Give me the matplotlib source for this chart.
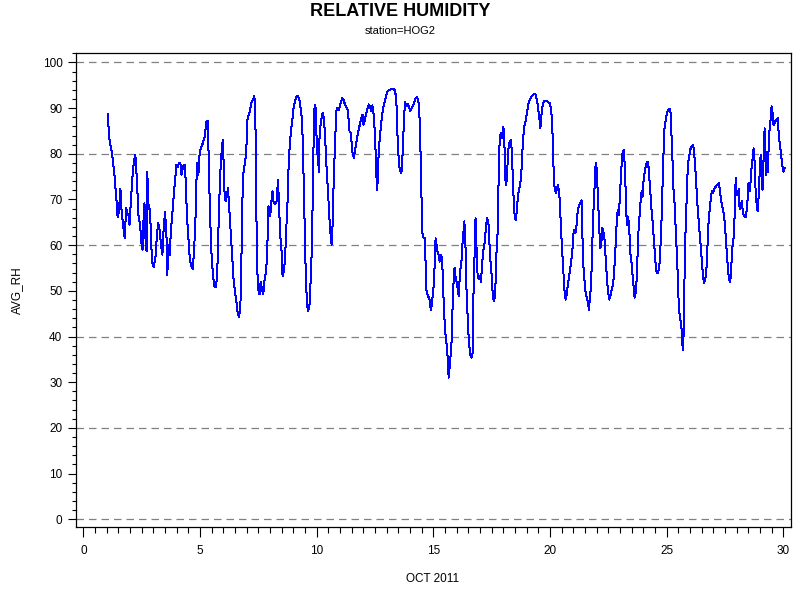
import matplotlib
matplotlib.use("Agg")
import matplotlib.pyplot as plt
from matplotlib.ticker import MultipleLocator

plt.rcParams['font.family'] = ['Liberation Sans', 'DejaVu Sans']

# day of month (Oct 2011) and average relative humidity
days = [1.04, 1.13, 1.24, 1.34, 1.44, 1.47, 1.53, 1.59, 1.63, 1.70, 1.77, 1.84, 1.89, 1.94, 1.98,
        2.03, 2.10, 2.16, 2.23, 2.30, 2.36, 2.43, 2.49, 2.54, 2.58, 2.62, 2.67, 2.71, 2.74, 2.80,
        2.86, 2.91, 2.96, 3.01, 3.09, 3.16, 3.21, 3.27, 3.33, 3.39, 3.44, 3.50, 3.56, 3.60, 3.64,
        3.70, 3.76, 3.81, 3.87, 3.93, 3.99, 4.04, 4.10, 4.16, 4.21, 4.27, 4.34, 4.39, 4.44, 4.50,
        4.56, 4.62, 4.69, 4.74, 4.80, 4.84, 4.87, 4.93, 4.99, 5.04, 5.10, 5.16, 5.21, 5.27, 5.33,
        5.37, 5.41, 5.46, 5.50, 5.54, 5.59, 5.63, 5.67, 5.73, 5.77, 5.81, 5.86, 5.91, 5.96, 5.99,
        6.01, 6.06, 6.10, 6.16, 6.20, 6.24, 6.29, 6.33, 6.39, 6.44, 6.50, 6.56, 6.61, 6.67, 6.73,
        6.77, 6.80, 6.84, 6.89, 6.93, 6.99, 7.04, 7.10, 7.16, 7.21, 7.27, 7.33, 7.37, 7.40, 7.43,
        7.47, 7.51, 7.56, 7.60, 7.66, 7.71, 7.77, 7.84, 7.89, 7.93, 7.97, 8.01, 8.06, 8.11, 8.16,
        8.21, 8.29, 8.34, 8.39, 8.43, 8.49, 8.54, 8.59, 8.64, 8.70, 8.76, 8.80, 8.84, 8.90, 8.96,
        9.01, 9.07, 9.14, 9.20, 9.26, 9.31, 9.37, 9.41, 9.46, 9.50, 9.54, 9.59, 9.63, 9.69, 9.74,
        9.80, 9.84, 9.89, 9.93, 9.97, 10.01, 10.06, 10.09, 10.13, 10.17, 10.23, 10.27, 10.31, 10.36, 10.41,
        10.47, 10.53, 10.57, 10.62, 10.64, 10.69, 10.73, 10.79, 10.84, 10.89, 10.93, 10.99, 11.04, 11.10, 11.16,
        11.21, 11.27, 11.33, 11.37, 11.41, 11.46, 11.50, 11.54, 11.59, 11.63, 11.69, 11.74, 11.80, 11.86, 11.91,
        11.97, 12.01, 12.07, 12.13, 12.19, 12.24, 12.30, 12.34, 12.39, 12.43, 12.47, 12.51, 12.54, 12.57, 12.60,
        12.63, 12.67, 12.71, 12.76, 12.81, 12.87, 12.93, 12.99, 13.04, 13.10, 13.17, 13.24, 13.33, 13.39, 13.43,
        13.46, 13.50, 13.54, 13.59, 13.63, 13.67, 13.71, 13.76, 13.79, 13.83, 13.87, 13.91, 13.96, 14.01, 14.07,
        14.13, 14.19, 14.24, 14.30, 14.36, 14.40, 14.43, 14.46, 14.49, 14.52, 14.54, 14.59, 14.63, 14.67, 14.71,
        14.77, 14.83, 14.87, 14.91, 14.96, 15.00, 15.04, 15.07, 15.10, 15.14, 15.19, 15.23, 15.27, 15.31, 15.36,
        15.40, 15.44, 15.49, 15.53, 15.57, 15.61, 15.66, 15.70, 15.74, 15.79, 15.83, 15.87, 15.91, 15.96, 16.00,
        16.04, 16.09, 16.13, 16.17, 16.20, 16.24, 16.29, 16.33, 16.37, 16.41, 16.46, 16.50, 16.56, 16.61, 16.65,
        16.69, 16.71, 16.73, 16.77, 16.81, 16.84, 16.87, 16.91, 16.96, 17.00, 17.04, 17.09, 17.13, 17.19, 17.23,
        17.27, 17.31, 17.37, 17.41, 17.46, 17.50, 17.54, 17.59, 17.63, 17.67, 17.71, 17.76, 17.79, 17.81, 17.86,
        17.90, 17.94, 17.99, 18.03, 18.06, 18.09, 18.12, 18.16, 18.20, 18.24, 18.29, 18.33, 18.37, 18.41, 18.46,
        18.50, 18.54, 18.59, 18.63, 18.69, 18.73, 18.77, 18.81, 18.86, 18.90, 18.96, 19.01, 19.07, 19.13, 19.19,
        19.24, 19.30, 19.36, 19.41, 19.47, 19.53, 19.59, 19.61, 19.66, 19.70, 19.76, 19.81, 19.87, 19.93, 19.99,
        20.04, 20.09, 20.13, 20.17, 20.21, 20.26, 20.30, 20.34, 20.39, 20.43, 20.47, 20.52, 20.56, 20.60, 20.64,
        20.69, 20.73, 20.79, 20.84, 20.90, 20.96, 21.00, 21.04, 21.09, 21.13, 21.17, 21.21, 21.27, 21.33, 21.36,
        21.39, 21.43, 21.49, 21.53, 21.59, 21.64, 21.67, 21.71, 21.76, 21.80, 21.84, 21.89, 21.93, 21.96, 22.00,
        22.04, 22.09, 22.13, 22.16, 22.20, 22.24, 22.29, 22.33, 22.37, 22.41, 22.46, 22.50, 22.54, 22.59, 22.64,
        22.70, 22.74, 22.79, 22.83, 22.87, 22.91, 22.94, 22.99, 23.03, 23.07, 23.11, 23.16, 23.20, 23.24, 23.27,
        23.30, 23.33, 23.37, 23.41, 23.46, 23.50, 23.54, 23.59, 23.63, 23.67, 23.71, 23.76, 23.80, 23.84, 23.89,
        23.93, 23.97, 24.01, 24.06, 24.10, 24.14, 24.19, 24.23, 24.27, 24.31, 24.36, 24.40, 24.44, 24.49, 24.53,
        24.57, 24.61, 24.66, 24.70, 24.74, 24.79, 24.83, 24.87, 24.91, 24.96, 25.00, 25.04, 25.09, 25.13, 25.17,
        25.21, 25.26, 25.30, 25.34, 25.39, 25.43, 25.47, 25.51, 25.56, 25.60, 25.64, 25.67, 25.69, 25.73, 25.77,
        25.81, 25.86, 25.90, 25.94, 25.99, 26.03, 26.07, 26.13, 26.17, 26.21, 26.26, 26.30, 26.34, 26.39, 26.43,
        26.47, 26.51, 26.56, 26.60, 26.64, 26.69, 26.73, 26.77, 26.81, 26.86, 26.90, 26.94, 26.99, 27.03, 27.07,
        27.11, 27.16, 27.20, 27.24, 27.29, 27.33, 27.37, 27.41, 27.46, 27.50, 27.54, 27.59, 27.63, 27.67, 27.71,
        27.76, 27.80, 27.84, 27.89, 27.93, 27.96, 27.99, 28.01, 28.06, 28.09, 28.11, 28.14, 28.19, 28.23, 28.27,
        28.31, 28.36, 28.40, 28.44, 28.49, 28.51, 28.56, 28.60, 28.64, 28.69, 28.73, 28.77, 28.81, 28.86, 28.90,
        28.94, 28.99, 29.03, 29.07, 29.11, 29.16, 29.20, 29.23, 29.27, 29.31, 29.34, 29.39, 29.43, 29.47, 29.50,
        29.53, 29.57, 29.61, 29.66, 29.71, 29.76, 29.80, 29.84, 29.89, 29.93, 29.97, 30.01, 30.06]

avg_rh = [88.6, 82.7, 79.8, 75.1, 68.5, 66.1, 67.6, 72.4, 68.1, 64.5, 61.6, 68.1, 67.0, 66.6, 64.5,
          68.9, 74.6, 78.0, 79.8, 74.0, 66.6, 64.5, 60.5, 59.0, 65.6, 69.2, 60.5, 58.7, 76.1, 68.1,
          67.8, 60.1, 56.1, 55.2, 57.2, 62.6, 64.8, 63.3, 60.1, 57.9, 63.3, 67.3, 62.9, 53.4, 60.1,
          57.9, 63.7, 66.6, 70.6, 74.0, 77.6, 77.0, 78.0, 78.0, 75.4, 77.2, 77.6, 74.0, 66.6, 61.9,
          57.2, 55.4, 54.8, 58.3, 64.5, 72.5, 78.0, 75.4, 80.5, 81.2, 82.0, 83.0, 83.8, 87.1, 87.2,
          79.8, 71.0, 62.2, 57.5, 54.6, 52.0, 50.8, 50.8, 52.8, 59.0, 67.0, 74.7, 79.4, 82.3, 83.0,
          78.3, 70.3, 69.6, 71.0, 72.6, 69.2, 65.2, 61.9, 56.1, 52.5, 49.9, 47.7, 45.5, 44.2, 46.3,
          55.0, 64.8, 74.7, 77.2, 77.6, 81.6, 87.8, 88.6, 90.0, 91.3, 91.8, 92.6, 89.3, 76.9, 61.5,
          52.5, 49.9, 49.2, 52.0, 50.2, 49.2, 52.5, 54.6, 60.1, 68.5, 67.8, 66.3, 69.6, 71.8, 69.2,
          69.0, 69.6, 74.3, 68.9, 62.6, 59.4, 53.2, 54.3, 56.4, 63.7, 70.3, 77.6, 81.2, 85.2, 87.4,
          90.0, 91.6, 92.6, 92.7, 91.8, 90.0, 87.8, 82.0, 70.3, 60.1, 52.0, 47.3, 45.5, 46.6, 52.0,
          60.1, 73.2, 89.3, 90.6, 89.7, 80.2, 79.8, 76.1, 84.9, 86.3, 88.6, 88.9, 87.8, 84.1, 78.3,
          73.2, 67.8, 63.7, 61.5, 60.1, 65.2, 74.0, 82.3, 89.3, 90.0, 89.5, 90.2, 91.3, 92.2, 91.8,
          90.8, 90.2, 89.7, 87.5, 84.9, 84.6, 82.3, 80.2, 79.1, 80.2, 82.0, 83.8, 85.2, 86.7, 87.8,
          88.6, 86.4, 87.5, 88.9, 90.0, 90.8, 90.0, 89.3, 90.6, 89.3, 86.7, 83.1, 78.3, 74.3, 72.1,
          76.9, 81.2, 83.4, 86.4, 88.6, 90.4, 91.8, 92.9, 93.6, 94.0, 94.1, 94.1, 94.1, 92.9, 90.0,
          84.6, 80.2, 77.2, 76.3, 75.7, 78.3, 83.4, 88.9, 91.3, 90.8, 90.4, 90.9, 90.2, 89.4, 90.0,
          90.6, 91.3, 92.1, 92.4, 91.8, 88.9, 86.4, 78.3, 71.7, 64.8, 62.2, 61.5, 61.5, 56.1, 49.9,
          48.8, 48.4, 46.6, 45.9, 48.4, 50.2, 52.8, 58.3, 61.5, 60.1, 58.3, 57.9, 56.4, 57.9, 57.5,
          54.3, 48.1, 42.6, 40.1, 38.3, 35.7, 31.0, 33.2, 35.7, 39.4, 47.3, 52.0, 55.0, 52.8, 52.0,
          50.6, 48.8, 52.8, 55.0, 55.7, 59.7, 62.6, 65.2, 62.2, 52.0, 46.0, 41.0, 37.0, 35.4, 35.5,
          36.5, 44.0, 52.0, 57.9, 65.9, 61.9, 55.7, 52.8, 52.5, 53.2, 52.0, 55.4, 58.6, 60.1, 62.2,
          64.5, 65.9, 64.5, 60.1, 55.7, 53.4, 49.9, 47.7, 48.4, 52.0, 58.6, 63.0, 71.0, 79.4, 83.8,
          84.6, 83.4, 85.9, 84.9, 80.2, 74.3, 73.2, 74.7, 80.2, 82.0, 82.7, 83.0, 80.2, 74.3, 68.1,
          65.9, 65.6, 68.1, 71.0, 72.5, 73.6, 75.4, 79.8, 83.8, 85.9, 87.2, 88.9, 90.8, 91.8, 92.4,
          92.7, 93.0, 93.2, 92.6, 90.8, 88.6, 85.6, 87.1, 89.7, 91.1, 91.6, 91.6, 91.6, 91.3, 91.1,
          90.0, 87.5, 81.2, 74.0, 72.1, 71.4, 72.5, 73.2, 71.8, 68.9, 63.7, 59.4, 55.4, 52.0, 48.8,
          48.1, 49.9, 52.0, 53.9, 56.1, 58.6, 62.2, 63.3, 62.6, 63.7, 66.6, 68.1, 68.9, 69.4, 69.8,
          62.2, 55.7, 51.7, 49.5, 48.4, 47.0, 45.9, 48.4, 51.0, 57.2, 64.8, 70.3, 75.1, 78.0, 76.9,
          72.5, 66.3, 61.9, 59.4, 60.1, 63.7, 63.0, 61.9, 58.6, 55.4, 51.4, 49.5, 48.1, 48.8, 50.2,
          51.4, 53.4, 57.5, 61.9, 65.9, 67.7, 66.6, 69.6, 74.0, 77.6, 80.2, 80.8, 78.0, 72.5, 67.3,
          64.5, 66.3, 65.2, 62.2, 57.2, 56.1, 53.4, 50.6, 48.5, 49.5, 52.0, 58.6, 63.7, 66.6, 69.9,
          71.8, 70.6, 74.0, 76.1, 77.2, 78.0, 78.3, 76.9, 74.0, 71.4, 67.3, 65.2, 62.2, 58.6, 55.7,
          54.1, 53.9, 54.6, 56.1, 60.1, 66.6, 74.0, 80.5, 85.6, 87.4, 88.6, 89.3, 89.7, 89.9, 88.9,
          84.1, 77.6, 71.4, 69.2, 63.7, 59.0, 54.3, 48.4, 44.4, 43.3, 41.8, 39.2, 37.1, 40.4, 53.6,
          62.8, 70.3, 76.1, 78.7, 80.2, 81.2, 81.6, 82.0, 81.0, 78.3, 74.7, 70.3, 67.7, 64.5, 62.0,
          59.4, 56.4, 53.2, 51.7, 52.2, 53.7, 56.4, 62.6, 65.9, 68.5, 70.6, 71.8, 71.4, 72.1, 72.5,
          72.9, 73.2, 73.4, 73.6, 71.8, 69.9, 68.9, 67.8, 66.6, 64.5, 61.1, 57.9, 54.6, 52.8, 52.0,
          53.4, 58.6, 60.5, 62.2, 68.9, 74.7, 71.0, 71.8, 71.0, 72.4, 68.9, 67.8, 68.9, 69.6, 67.0,
          66.6, 66.1, 66.3, 68.1, 71.0, 73.6, 71.8, 74.0, 76.9, 79.1, 81.2, 78.3, 72.5, 68.9, 67.4,
          70.3, 76.1, 79.8, 74.7, 72.1, 79.8, 85.6, 79.1, 75.4, 80.5, 76.1, 84.1, 85.9, 88.6, 90.4,
          89.7, 86.4, 86.4, 87.1, 87.5, 87.8, 84.9, 82.7, 80.5, 78.7, 77.2, 76.1, 76.9]

grid_levels = [0, 20, 40, 60, 80, 100]

fig = plt.figure(figsize=(8, 6), dpi=100)
ax = fig.add_axes([0.0954, 0.1212, 0.8936, 0.7900])

for g in grid_levels:
    ax.axhline(g, color='#808080', lw=0.9, ls=(0, (6, 4)), zorder=1)

ax.plot(days, avg_rh, color='#0000ff', lw=0.72, antialiased=False, zorder=2)

ax.set_xlim(-0.3, 30.34)
ax.set_ylim(-1.75, 102)

ax.xaxis.set_major_locator(MultipleLocator(5))
ax.xaxis.set_minor_locator(MultipleLocator(0.5))
ax.yaxis.set_major_locator(MultipleLocator(10))
ax.yaxis.set_minor_locator(MultipleLocator(2))

ax.tick_params(axis='x', which='major', length=7, width=0.8, labelsize=8.5, pad=6)
ax.tick_params(axis='x', which='minor', length=4, width=0.8)
ax.tick_params(axis='y', which='major', length=6, width=0.8, labelsize=8.5, pad=4)
ax.tick_params(axis='y', which='minor', length=3, width=0.8)
for s in ax.spines.values():
    s.set_linewidth(0.9)

fig.text(0.5, 1 - 11 / 600, 'RELATIVE HUMIDITY', ha='center', va='center',
         fontsize=13, fontweight='bold')
fig.text(0.5, 1 - 31 / 600, 'station=HOG2', ha='center', va='center', fontsize=8)
fig.text(433 / 800, 1 - 579 / 600, 'OCT 2011', ha='center', va='center', fontsize=8.5)
fig.text(17 / 800, 1 - 290 / 600, 'AVG_RH', ha='center', va='center', fontsize=8.5,
         rotation=90)

fig.savefig('out.png', dpi=100)
